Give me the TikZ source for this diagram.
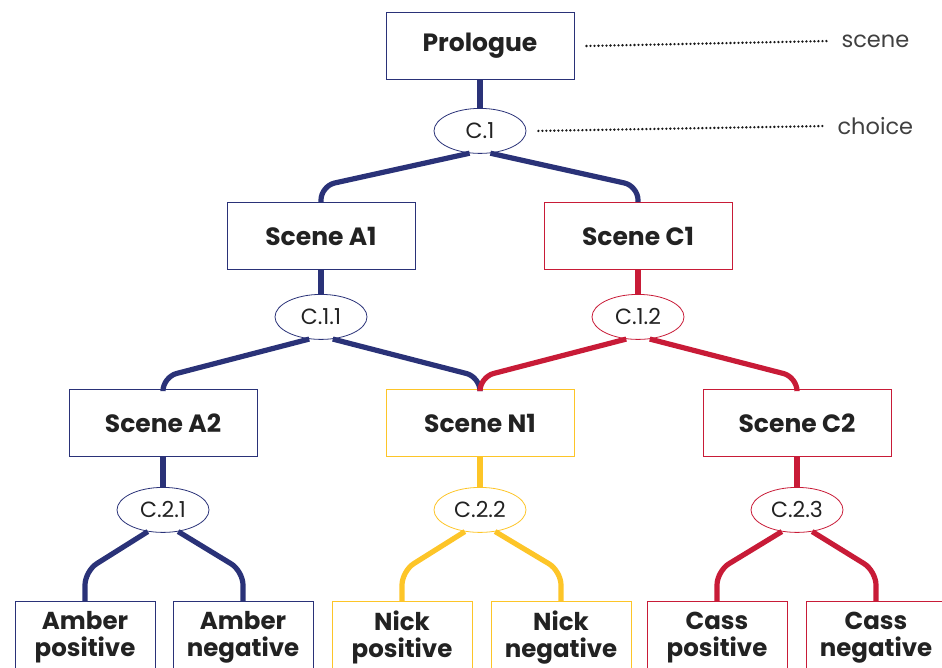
\documentclass[tikz,border=0pt]{standalone}
\usepackage{fontspec}
\setmainfont{Poppins}
\usetikzlibrary{positioning,shapes.geometric}
\definecolor{navy}{RGB}{42,50,120}
\definecolor{crimson}{RGB}{200,27,55}
\definecolor{amber}{RGB}{253,197,40}
\definecolor{ink}{RGB}{34,34,34}

\begin{document}
\begin{tikzpicture}[
    x=1pt, y=-1pt,
    scene/.style={draw, line width=1pt, minimum width=188pt, minimum height=67pt, text=ink, font=\fontsize{25}{28}\selectfont\bfseries},
    ending/.style={draw, line width=1pt, align=center, anchor=north, minimum width=140pt, minimum height=72pt, text=ink, font=\fontsize{24.5}{27}\selectfont\bfseries},
    choice/.style={draw, ellipse, line width=0.8pt, minimum width=92pt, minimum height=45pt, inner sep=0pt, text=ink, font=\fontsize{22}{24}\selectfont},
    link/.style={line width=5.2pt, rounded corners=14pt},
    keyline/.style={line width=2.6pt, line cap=round, dash pattern=on 0pt off 4pt, black!90},
    keytext/.style={anchor=west, text=black!75, font=\fontsize{22.5}{24}\selectfont}
]
\useasboundingbox (0,0) rectangle (942,667);
\clip (0,0) rectangle (942,667);

% scenes
\node[scene, navy] (prologue) at (480,46) {\color{ink}Prologue};
\node[scene, navy] (a1) at (321,236) {\color{ink}Scene A1};
\node[scene, crimson] (cc1) at (638,236) {\color{ink}Scene C1};
\node[scene, navy] (a2) at (163,423) {\color{ink}Scene A2};
\node[scene, amber] (n1) at (480,423) {\color{ink}Scene N1};
\node[scene, crimson] (cc2) at (797,423) {\color{ink}Scene C2};

% choices
\node[choice, navy, below=28pt of prologue] (c1) {\color{ink}C.1};
\node[choice, navy, below=24pt of a1] (c11) {\color{ink}C.1.1};
\node[choice, crimson, below=24pt of cc1] (c12) {\color{ink}C.1.2};
\node[choice, navy, below=30pt of a2] (c21) {\color{ink}C.2.1};
\node[choice, amber, below=30pt of n1] (c22) {\color{ink}C.2.2};
\node[choice, crimson, below=30pt of cc2] (c23) {\color{ink}C.2.3};

% endings
\node[ending, navy] (ampos) at (85,601) {\color{ink}Amber\\\color{ink}positive};
\node[ending, navy] (amneg) at (243,601) {\color{ink}Amber\\\color{ink}negative};
\node[ending, amber] (nipos) at (402,601) {\color{ink}Nick\\\color{ink}positive};
\node[ending, amber] (nineg) at (561,601) {\color{ink}Nick\\\color{ink}negative};
\node[ending, crimson] (capos) at (717,601) {\color{ink}Cass\\\color{ink}positive};
\node[ending, crimson] (caneg) at (876,601) {\color{ink}Cass\\\color{ink}negative};

% key
\node[keytext] (scenekey) at (838,41) {scene};
\node[keytext] (choicekey) at (834,126) {choice};
\draw[keyline] ([xshift=12pt]prologue.east) -- ([xshift=-10pt]scenekey.west);
\draw[keyline] ([xshift=12pt]c1.east) -- ([xshift=-8pt]choicekey.west);

% links
\draw[link, navy] (prologue) -- (c1);
\draw[link, navy] (c1.-115) -- ([yshift=16pt]a1.north) -- (a1.north);
\draw[link, navy] (c1.-65) -- ([yshift=16pt]cc1.north) -- (cc1.north);
\draw[link, navy] (a1) -- (c11);
\draw[link, crimson] (cc1) -- (c12);
\draw[link, navy] (c11.-118) -- ([yshift=12pt]a2.north) -- (a2.north);
\draw[link, navy] (c11.-62) -- ([yshift=12pt]n1.north) -- (n1.north);
\draw[link, crimson] (c12.-118) -- ([yshift=12pt]n1.north) -- (n1.north);
\draw[link, crimson] (c12.-62) -- ([yshift=12pt]cc2.north) -- (cc2.north);
\draw[link, navy] (a2) -- (c21);
\draw[link, amber] (n1) -- (c22);
\draw[link, crimson] (cc2) -- (c23);
\draw[link, navy] (c21.-125) -- ([yshift=30pt]ampos.north) -- (ampos.north);
\draw[link, navy] (c21.-55) -- ([yshift=30pt]amneg.north) -- (amneg.north);
\draw[link, amber] (c22.-125) -- ([yshift=30pt]nipos.north) -- (nipos.north);
\draw[link, amber] (c22.-55) -- ([yshift=30pt]nineg.north) -- (nineg.north);
\draw[link, crimson] (c23.-125) -- ([yshift=30pt]capos.north) -- (capos.north);
\draw[link, crimson] (c23.-55) -- ([yshift=30pt]caneg.north) -- (caneg.north);
\end{tikzpicture}
\end{document}
